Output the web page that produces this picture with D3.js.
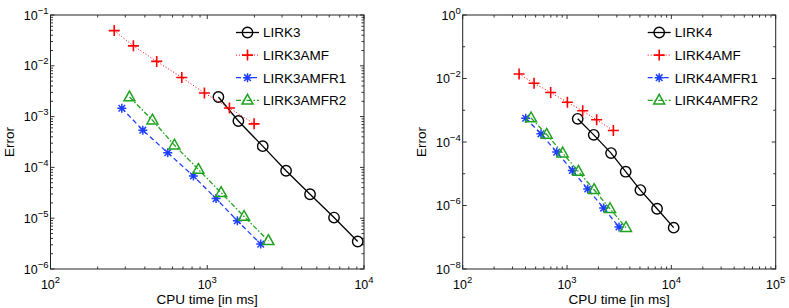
<!DOCTYPE html>
<meta charset="utf-8">
<style>
body { margin: 0; background: #fff; }
text { font-family: "Liberation Sans", Arial, sans-serif; fill: #000; }
.tick-label { font-size: 12.5px; }
.axis-title { font-size: 13.5px; }
.legend-text { font-size: 13.5px; }
</style>
<svg width="789" height="308"></svg>
<script src="https://d3js.org/d3.v7.min.js"></script>
<script>

// left panel: third order methods
var lirk3Time = [1178, 1580, 2259, 3183, 4527, 6438, 9117],
    lirk3Err = [2.43e-3, 8.2e-4, 2.62e-4, 8.6e-5, 2.96e-5, 1.03e-5, 3.48e-6];
var lirk3amfTime = [255, 338, 476, 688, 959, 1385, 1990],
    lirk3amfErr = [4.93e-2, 2.47e-2, 1.22e-2, 5.9e-3, 2.91e-3, 1.48e-3, 7.2e-4];
var lirk3r1Time = [285, 388, 560, 816, 1138, 1557, 2193],
    lirk3r1Err = [1.46e-3, 5.4e-4, 1.94e-4, 6.76e-5, 2.43e-5, 8.9e-6, 3.09e-6];
var lirk3r2Time = [319, 447, 617, 878, 1225, 1717, 2455],
    lirk3r2Err = [2.43e-3, 8.5e-4, 2.74e-4, 9.1e-5, 3.18e-5, 1.08e-5, 3.6e-6];

// right panel: fourth order methods
var lirk4Time = [1265, 1803, 2642, 3649, 5046, 7295, 10520],
    lirk4Err = [5.37e-4, 1.68e-4, 4.47e-5, 1.16e-5, 3.06e-6, 7.9e-7, 2.0e-7];
var lirk4amfTime = [347, 483, 697, 1008, 1413, 1923, 2780],
    lirk4amfErr = [1.39e-2, 7.1e-3, 3.61e-3, 1.79e-3, 9.6e-4, 5.0e-4, 2.3e-4];
var lirk4r1Time = [402, 563, 796, 1124, 1578, 2244, 3148],
    lirk4r1Err = [5.6e-4, 1.81e-4, 4.8e-5, 1.27e-5, 3.3e-6, 8.3e-7, 2.1e-7];
var lirk4r2Time = [452, 638, 908, 1285, 1816, 2583, 3673],
    lirk4r2Err = [5.7e-4, 1.73e-4, 4.47e-5, 1.18e-5, 3.14e-6, 7.9e-7, 2.0e-7];

var names3 = ["LIRK3", "LIRK3AMF", "LIRK3AMFR1", "LIRK3AMFR2"],
    names4 = ["LIRK4", "LIRK4AMF", "LIRK4AMFR1", "LIRK4AMFR2"];

// decade exponents shown on each axis
var xExp3 = [2, 3, 4], yExp3 = [-6, -5, -4, -3, -2, -1];
var xExp4 = [2, 3, 4, 5], yExp4 = [-8, -7, -6, -5, -4, -3, -2, -1, 0];
var yLabelExp4 = [-8, -6, -4, -2, 0];

var styles = [
  {color: "#000", dash: null, width: 1.3, marker: "circle"},
  {color: "#ff0000", dash: "1,2", width: 1, marker: "plus"},
  {color: "#1f3fff", dash: "5,3", width: 1.3, marker: "star"},
  {color: "#1fa31f", dash: "5,2,1.5,2", width: 1.3, marker: "triangle"}
];

var svg = d3.select("svg");

function marker(g, type, color) {
  if (type == "circle") {
    g.append("circle").attr("r", 5.2)
      .attr("fill", "none").attr("stroke", color).attr("stroke-width", 1.4);
  } else if (type == "plus") {
    g.append("path").attr("d", "M-5.5,0H5.5M0,-5.5V5.5")
      .attr("stroke", color).attr("stroke-width", 1.6);
  } else if (type == "star") {
    g.append("path").attr("d", "M-4.5,0H4.5M0,-4.5V4.5M-3.3,-3.3L3.3,3.3M-3.3,3.3L3.3,-3.3")
      .attr("stroke", color).attr("stroke-width", 1.5);
  } else {
    g.append("path").attr("d", "M0,-6L5.5,3.8H-5.5Z")
      .attr("fill", "none").attr("stroke", color).attr("stroke-width", 1.5);
  }
}

function supLabel(g, exp, x, y, anchor) {
  var t = g.append("text")
      .attr("class", "tick-label")
      .attr("x", x).attr("y", y)
      .attr("text-anchor", anchor);
  t.append("tspan").text("10");
  t.append("tspan").attr("dy", -6).attr("font-size", "9.5px")
      .text(exp < 0 ? "\u2212" + (-exp) : exp);
}

function drawPanel(p) {
  var x = d3.scaleLog().domain(p.xDomain).range([p.left, p.right]),
      y = d3.scaleLog().domain(p.yDomain).range([p.bottom, p.top]);
  var g = svg.append("g");

  // minor and major ticks, inward, on all four sides
  var xTicks = [], yTicks = [];
  p.xExp.forEach(function(e, i) {
    xTicks.push({v: Math.pow(10, e), major: true});
    if (i < p.xExp.length - 1)
      for (var k = 2; k < 10; k++) xTicks.push({v: k * Math.pow(10, e), major: false});
  });
  p.yExp.forEach(function(e, i) {
    yTicks.push({v: Math.pow(10, e), major: p.yMinor || p.yLabels.indexOf(e) >= 0});
    if (p.yMinor && i < p.yExp.length - 1)
      for (var k = 2; k < 10; k++) yTicks.push({v: k * Math.pow(10, e), major: false});
  });

  var tickG = g.append("g").attr("stroke", "#000").attr("stroke-width", 0.8);
  xTicks.forEach(function(t) {
    var px = x(t.v), len = t.major ? 4 : 2.5;
    tickG.append("line").attr("x1", px).attr("x2", px).attr("y1", p.bottom).attr("y2", p.bottom - len);
    tickG.append("line").attr("x1", px).attr("x2", px).attr("y1", p.top).attr("y2", p.top + len);
  });
  yTicks.forEach(function(t) {
    var py = y(t.v), len = t.major ? 4 : 2.5;
    tickG.append("line").attr("x1", p.left).attr("x2", p.left + len).attr("y1", py).attr("y2", py);
    tickG.append("line").attr("x1", p.right).attr("x2", p.right - len).attr("y1", py).attr("y2", py);
  });

  g.append("rect")
      .attr("x", p.left).attr("y", p.top)
      .attr("width", p.right - p.left).attr("height", p.bottom - p.top)
      .attr("fill", "none").attr("stroke", "#222").attr("stroke-width", 1);

  p.xExp.forEach(function(e) {
    supLabel(g, e, x(Math.pow(10, e)), p.bottom + 20, "middle");
  });
  p.yLabels.forEach(function(e) {
    supLabel(g, e, p.left - 2, y(Math.pow(10, e)) + 4.5, "end");
  });

  g.append("text").attr("class", "axis-title")
      .attr("x", (p.left + p.right) / 2).attr("y", p.bottom + 35)
      .attr("text-anchor", "middle").text("CPU time [in ms]");
  g.append("text").attr("class", "axis-title")
      .attr("transform", "translate(" + (p.left - 37) + "," + ((p.top + p.bottom) / 2) + ")rotate(-90)")
      .attr("text-anchor", "middle").text("Error");

  var line = d3.line()
      .x(function(d) { return x(d[0]); })
      .y(function(d) { return y(d[1]); });

  p.series.forEach(function(s, i) {
    var st = styles[i];
    var pts = s.t.map(function(v, j) { return [v, s.e[j]]; });
    g.append("path").datum(pts)
        .attr("d", line)
        .attr("fill", "none")
        .attr("stroke", st.color)
        .attr("stroke-width", st.width)
        .attr("stroke-dasharray", st.dash);
    g.selectAll(null).data(pts).enter().append("g")
        .attr("transform", function(d) { return "translate(" + x(d[0]) + "," + y(d[1]) + ")"; })
        .each(function() { marker(d3.select(this), st.marker, st.color); });
  });

  // legend, no frame
  p.names.forEach(function(n, i) {
    var st = styles[i], ly = p.top + 17.5 + i * 22.6, lx = p.right - 128;
    g.append("line").attr("x1", lx).attr("x2", lx + 23).attr("y1", ly).attr("y2", ly)
        .attr("stroke", st.color).attr("stroke-width", st.width).attr("stroke-dasharray", st.dash);
    marker(g.append("g").attr("transform", "translate(" + (lx + 11.5) + "," + ly + ")"), st.marker, st.color);
    g.append("text").attr("class", "legend-text")
        .attr("x", lx + 27).attr("y", ly + 4.8).text(n);
  });
}

drawPanel({
  left: 50.5, right: 364, top: 15, bottom: 269,
  xDomain: [1e2, 1e4], yDomain: [1e-6, 1e-1],
  xExp: xExp3, yExp: yExp3, yLabels: yExp3, yMinor: true,
  names: names3,
  series: [
    {t: lirk3Time, e: lirk3Err},
    {t: lirk3amfTime, e: lirk3amfErr},
    {t: lirk3r1Time, e: lirk3r1Err},
    {t: lirk3r2Time, e: lirk3r2Err}
  ]
});

drawPanel({
  left: 462.7, right: 775.7, top: 15, bottom: 269,
  xDomain: [1e2, 1e5], yDomain: [1e-8, 1e0],
  xExp: xExp4, yExp: yExp4, yLabels: yLabelExp4, yMinor: false,
  names: names4,
  series: [
    {t: lirk4Time, e: lirk4Err},
    {t: lirk4amfTime, e: lirk4amfErr},
    {t: lirk4r1Time, e: lirk4r1Err},
    {t: lirk4r2Time, e: lirk4r2Err}
  ]
});

</script>
